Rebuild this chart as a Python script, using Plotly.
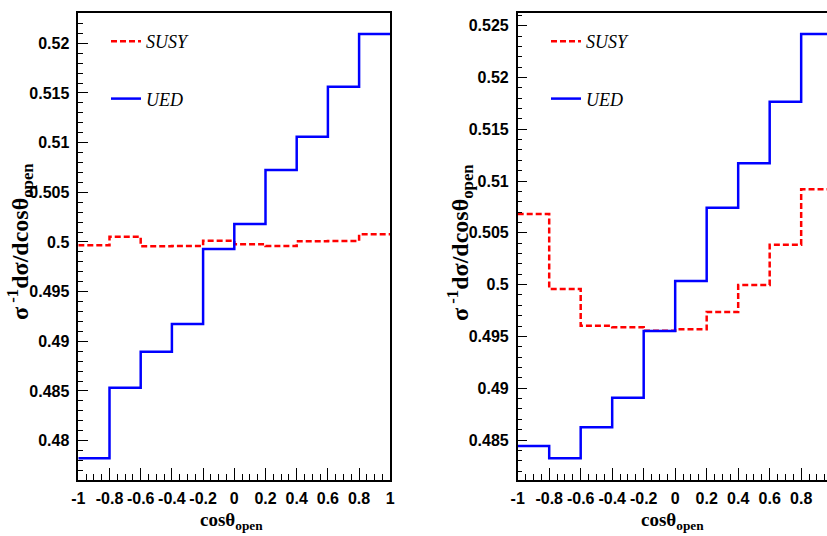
import plotly.graph_objects as go

# ---------------- data ----------------
bin_edges = [-1.0, -0.8, -0.6, -0.4, -0.2, 0.0, 0.2, 0.4, 0.6, 0.8, 1.0]

left_susy = [0.49967, 0.50053, 0.49957, 0.49960, 0.50013, 0.49977, 0.49960, 0.50007, 0.50010, 0.50078]
left_ued = [0.47823, 0.48533, 0.48896, 0.49175, 0.49930, 0.50181, 0.50725, 0.51060, 0.51563, 0.52094]

right_susy = [0.50682, 0.49958, 0.49603, 0.49588, 0.49555, 0.49569, 0.49736, 0.49996, 0.50386, 0.50920]
right_ued = [0.48442, 0.48323, 0.48623, 0.48908, 0.49552, 0.50035, 0.50743, 0.51171, 0.51766, 0.52420]

x_tickvals = [-1, -0.8, -0.6, -0.4, -0.2, 0, 0.2, 0.4, 0.6, 0.8, 1]
x_ticktext = ["-1", "-0.8", "-0.6", "-0.4", "-0.2", "0", "0.2", "0.4", "0.6", "0.8", "1"]
left_y_tickvals = [0.48, 0.485, 0.49, 0.495, 0.5, 0.505, 0.51, 0.515, 0.52]
left_y_ticktext = ["0.48", "0.485", "0.49", "0.495", "0.5", "0.505", "0.51", "0.515", "0.52"]
right_y_tickvals = [0.485, 0.49, 0.495, 0.5, 0.505, 0.51, 0.515, 0.52, 0.525]
right_y_ticktext = ["0.485", "0.49", "0.495", "0.5", "0.505", "0.51", "0.515", "0.52", "0.525"]

series_names = ["SUSY", "UED"]

# ---------------- figure ----------------
RED = "#ff0000"
BLUE = "#0000ff"
fig = go.Figure()


def step_y(vals):
    return list(vals) + [vals[-1]]


fig.add_trace(go.Scatter(x=bin_edges, y=step_y(left_susy), mode="lines", line_shape="hv",
                         line=dict(color=RED, width=2.5, dash="6px,3px"),
                         name="<i>" + series_names[0] + "</i>", xaxis="x", yaxis="y",
                         legend="legend", legendgroup="a"))
fig.add_trace(go.Scatter(x=bin_edges, y=step_y(left_ued), mode="lines", line_shape="hv",
                         line=dict(color=BLUE, width=2.5),
                         name="<i>" + series_names[1] + "</i>", xaxis="x", yaxis="y",
                         legend="legend", legendgroup="b"))
fig.add_trace(go.Scatter(x=bin_edges, y=step_y(right_susy), mode="lines", line_shape="hv",
                         line=dict(color=RED, width=2.5, dash="6px,3px"),
                         name="<i>" + series_names[0] + "</i>", xaxis="x2", yaxis="y2",
                         legend="legend2", legendgroup="c"))
fig.add_trace(go.Scatter(x=bin_edges, y=step_y(right_ued), mode="lines", line_shape="hv",
                         line=dict(color=BLUE, width=2.5),
                         name="<i>" + series_names[1] + "</i>", xaxis="x2", yaxis="y2",
                         legend="legend2", legendgroup="d"))

W, H = 827, 536
tickfont = dict(family="Liberation Sans, Arial, sans-serif", size=16, color="black", weight="bold")

common_x = dict(
    tickmode="array", tickvals=x_tickvals, ticktext=x_ticktext,
    ticks="inside", ticklen=12, tickwidth=1, tickcolor="black",
    minor=dict(ticks="inside", ticklen=6, tickwidth=1, tickcolor="black", dtick=0.05, tick0=-1),
    showline=True, linecolor="black", linewidth=1.5, automargin=False,
    showgrid=False, zeroline=False, tickfont=tickfont, ticklabelstandoff=3,
)
common_y = dict(
    ticks="inside", ticklen=10, tickwidth=1, tickcolor="black",
    showline=True, linecolor="black", linewidth=1.5, automargin=False,
    showgrid=False, zeroline=False, tickfont=tickfont, ticklabelstandoff=4,
)

y_dom = [1 - 480 / H, 1 - 12.7 / H]

fig.update_layout(
    width=W, height=H,
    margin=dict(l=0, r=0, t=0, b=0, autoexpand=False),
    paper_bgcolor="white", plot_bgcolor="white",
    showlegend=True,
    xaxis=dict(domain=[78.3 / W, 390.3 / W], range=[-1, 1], anchor="y", mirror=True, **common_x),
    yaxis=dict(domain=y_dom, range=[0.47604, 0.52308], anchor="x", mirror=True,
               tickmode="array", tickvals=left_y_tickvals, ticktext=left_y_ticktext,
               minor=dict(ticks="inside", ticklen=5, tickwidth=1, tickcolor="black", dtick=0.001, tick0=0.48),
               **common_y),
    xaxis2=dict(domain=[517.7 / W, 1.0], range=[-1, 0.964], anchor="y2", mirror=True, **common_x),
    yaxis2=dict(domain=y_dom, range=[0.48114, 0.52625], anchor="x2", mirror=False,
                tickmode="array", tickvals=right_y_tickvals, ticktext=right_y_ticktext,
                minor=dict(ticks="inside", ticklen=5, tickwidth=1, tickcolor="black", dtick=0.001, tick0=0.485),
                **common_y),
    legend=dict(x=106 / W, y=1 - 23 / H, xanchor="left", yanchor="top",
                bgcolor="rgba(0,0,0,0)", borderwidth=0, tracegroupgap=31,
                font=dict(family="Liberation Serif, Times New Roman, serif", size=18, color="black"),
                itemwidth=30),
    legend2=dict(x=546 / W, y=1 - 23 / H, xanchor="left", yanchor="top",
                 bgcolor="rgba(0,0,0,0)", borderwidth=0, tracegroupgap=31,
                 font=dict(family="Liberation Serif, Times New Roman, serif", size=18, color="black"),
                 itemwidth=30),
)

xtitle_font = dict(family="Liberation Serif, Times New Roman, serif", size=19, color="black", weight="bold")
ytitle_font = dict(family="Liberation Serif, Times New Roman, serif", size=24, color="black", weight="bold")
ytitle = "σ<sup> -1</sup>dσ/dcosθ<sub>open</sub>"
xtitle = "cosθ<sub>open</sub>"
for xc, yc, txt, ang, fnt in [
    (231, 521, xtitle, 0, xtitle_font), (672, 521, xtitle, 0, xtitle_font),
    (20, 242, ytitle, -90, ytitle_font), (460, 242, ytitle, -90, ytitle_font),
]:
    fig.add_annotation(x=xc / W, y=1 - yc / H, xref="paper", yref="paper", text=txt,
                       textangle=ang, showarrow=False, font=fnt,
                       xanchor="center", yanchor="middle")

fig.write_html("out.html", config={"displayModeBar": False},
               post_script="document.body.style.margin='0';document.body.style.overflow='hidden';")
